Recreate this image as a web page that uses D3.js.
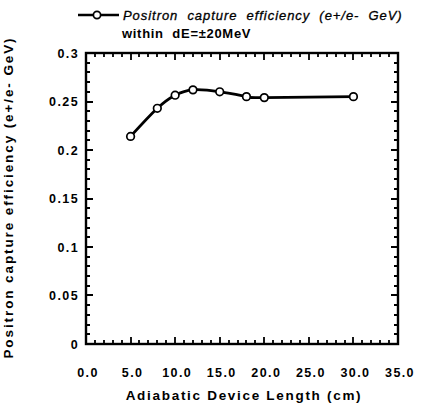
<!DOCTYPE html>
<html>
<head>
<meta charset="utf-8">
<script src="https://cdn.jsdelivr.net/npm/d3@7"></script>
<style>
  body { margin: 0; background: #fff; }
  text { font-family: "Liberation Sans", Arial, sans-serif; fill: #000; }
</style>
</head>
<body>
<div id="container"></div>
<script>
// Data
const lengths = [5, 8, 10, 12, 15, 18, 20, 30];
const efficiency = [0.214, 0.243, 0.2565, 0.262, 0.260, 0.255, 0.254, 0.255];
const xTicks = [0, 5, 10, 15, 20, 25, 30, 35];
const yTicks = [0, 0.05, 0.1, 0.15, 0.2, 0.25, 0.3];
const xTickLabels = ["0.0", "5.0", "10.0", "15.0", "20.0", "25.0", "30.0", "35.0"];
const yTickLabels = ["0", "0.05", "0.1", "0.15", "0.2", "0.25", "0.3"];
const seriesName = ["Positron  capture  efficiency  (e+/e-  GeV)", "within  dE=±20MeV"];

// Constants
const width = 427;
const height = 408;
const plotLeft = 86, plotRight = 398, plotTop = 53, plotBottom = 344;

const xScale = d3.scaleLinear().domain([0, 35]).range([plotLeft, plotRight]);
const yScale = d3.scaleLinear().domain([0, 0.3]).range([plotBottom, plotTop]);

const svg = d3
  .select("#container")
  .append("svg")
  .attr("width", width)
  .attr("height", height);

// Frame
svg.append("rect")
  .attr("x", plotLeft)
  .attr("y", plotTop)
  .attr("width", plotRight - plotLeft)
  .attr("height", plotBottom - plotTop)
  .attr("fill", "none")
  .attr("stroke", "#000")
  .attr("stroke-width", 2.4);

// Ticks, all pointing inward, built as one path
const xMinorVals = d3.range(0, 36, 1);
const yMinorVals = d3.range(0, 31, 1).map((d) => d / 100);
const tickPath = d3.path();
const addXTicks = (vals, len) => {
  vals.forEach((d) => {
    const x = Math.round(xScale(d));
    tickPath.moveTo(x, plotBottom);
    tickPath.lineTo(x, plotBottom - len);
    tickPath.moveTo(x, plotTop);
    tickPath.lineTo(x, plotTop + len);
  });
};
const addYTicks = (vals, len) => {
  vals.forEach((d) => {
    const y = Math.round(yScale(d));
    tickPath.moveTo(plotLeft, y);
    tickPath.lineTo(plotLeft + len, y);
    tickPath.moveTo(plotRight, y);
    tickPath.lineTo(plotRight - len, y);
  });
};
addXTicks(xMinorVals, 4);
addXTicks(xTicks, 7);
addYTicks(yMinorVals, 4);
addYTicks(yTicks, 7);

svg.append("path")
  .attr("d", tickPath.toString())
  .attr("fill", "none")
  .attr("stroke", "#000")
  .attr("stroke-width", 1.8);

// Tick labels
svg.append("g")
  .selectAll("text")
  .data(xTicks)
  .enter()
  .append("text")
  .attr("x", (d) => xScale(d) + 2)
  .attr("y", 377)
  .attr("text-anchor", "middle")
  .style("font-weight", "bold")
  .style("font-size", "12.5px")
  .style("letter-spacing", "1.4px")
  .text((d, i) => xTickLabels[i]);

svg.append("g")
  .selectAll("text")
  .data(yTicks)
  .enter()
  .append("text")
  .attr("x", plotLeft - 7)
  .attr("y", (d) => yScale(d) + 4.5)
  .attr("text-anchor", "end")
  .style("font-weight", "bold")
  .style("font-size", "12.5px")
  .style("letter-spacing", "1.4px")
  .text((d, i) => yTickLabels[i]);

// Axis titles
svg.append("text")
  .attr("x", (plotLeft + plotRight) / 2 + 2)
  .attr("y", 400)
  .attr("text-anchor", "middle")
  .style("font-weight", "bold")
  .style("font-size", "13.5px")
  .style("letter-spacing", "1.7px")
  .text("Adiabatic Device Length (cm)");

svg.append("text")
  .attr("transform", `translate(13,${(plotTop + plotBottom) / 2 - 1}) rotate(-90)`)
  .attr("text-anchor", "middle")
  .style("font-weight", "bold")
  .style("font-size", "13.5px")
  .style("letter-spacing", "1.9px")
  .text("Positron capture efficiency (e+/e- GeV)");

// Line
const points = lengths.map((d, i) => [d, efficiency[i]]);
const line = d3.line()
  .x((d) => xScale(d[0]))
  .y((d) => yScale(d[1]))
  .curve(d3.curveNatural);

svg.append("path")
  .datum(points)
  .attr("d", line)
  .attr("fill", "none")
  .attr("stroke", "#000")
  .attr("stroke-width", 2.8);

svg.selectAll("circle.dot")
  .data(points)
  .enter()
  .append("circle")
  .attr("class", "dot")
  .attr("cx", (d) => xScale(d[0]))
  .attr("cy", (d) => yScale(d[1]))
  .attr("r", 3.8)
  .attr("fill", "#fff")
  .attr("stroke", "#000")
  .attr("stroke-width", 1.7);

// Legend
const legend = svg.append("g").attr("id", "legend");
legend.append("line")
  .attr("x1", 78).attr("x2", 119)
  .attr("y1", 15).attr("y2", 15)
  .attr("stroke", "#000").attr("stroke-width", 2.4);
legend.append("circle")
  .attr("cx", 97).attr("cy", 15).attr("r", 3.6)
  .attr("fill", "#fff").attr("stroke", "#000").attr("stroke-width", 1.7);
legend.append("text")
  .attr("x", 123).attr("y", 20)
  .style("font-style", "italic")
  .style("font-size", "13px")
  .style("white-space", "pre")
  .style("letter-spacing", "0.95px")
  .style("stroke", "#000")
  .style("stroke-width", "0.3px")
  .text(seriesName[0]);
legend.append("text")
  .attr("x", 122).attr("y", 38)
  .style("font-weight", "bold")
  .style("font-size", "13px")
  .style("white-space", "pre")
  .style("letter-spacing", "0.7px")
  .text(seriesName[1]);
</script>
</body>
</html>
